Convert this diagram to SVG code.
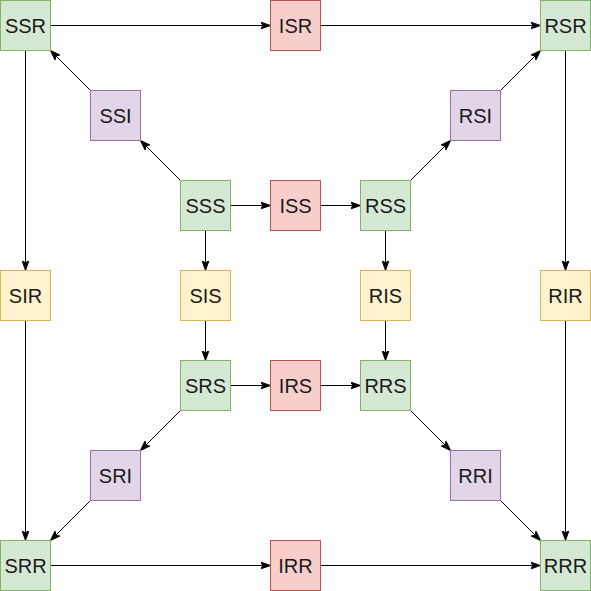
<svg xmlns="http://www.w3.org/2000/svg" width="591" height="591" viewBox="0 0 591 591">
<defs>
<marker id="arr" markerUnits="userSpaceOnUse" markerWidth="11" markerHeight="8" refX="10" refY="4" orient="auto" viewBox="0 0 11 8">
<path d="M0,0.5 L10,4 L0,7.5 L2.5,4 Z" fill="#000" stroke="#000" stroke-width="1"/>
</marker>
<style>
rect{stroke-width:1}
.g{fill:#d5e8d4;stroke:#82b366}
.r{fill:#f8cecc;stroke:#b85450}
.p{fill:#e1d5e7;stroke:#9673a6}
.y{fill:#fff2cc;stroke:#d6b656}
text{font-family:"Liberation Sans",Arial,sans-serif;font-size:20px;fill:#1a1a1a;text-anchor:middle;dominant-baseline:central}
.e{stroke:#000;stroke-width:1;fill:none;marker-end:url(#arr)}
</style>
</defs>
<rect width="591" height="591" fill="#fff"/>
<g id="connectors">
<line class="e" x1="50.5" y1="25.5" x2="270.5" y2="25.5"/>
<line class="e" x1="320.5" y1="25.5" x2="540.5" y2="25.5"/>
<line class="e" x1="50.5" y1="565.5" x2="270.5" y2="565.5"/>
<line class="e" x1="320.5" y1="565.5" x2="540.5" y2="565.5"/>
<line class="e" x1="230.5" y1="205.5" x2="270.5" y2="205.5"/>
<line class="e" x1="320.5" y1="205.5" x2="360.5" y2="205.5"/>
<line class="e" x1="230.5" y1="385.5" x2="270.5" y2="385.5"/>
<line class="e" x1="320.5" y1="385.5" x2="360.5" y2="385.5"/>
<line class="e" x1="25.5" y1="50.5" x2="25.5" y2="270.5"/>
<line class="e" x1="25.5" y1="320.5" x2="25.5" y2="540.5"/>
<line class="e" x1="565.5" y1="50.5" x2="565.5" y2="270.5"/>
<line class="e" x1="565.5" y1="320.5" x2="565.5" y2="540.5"/>
<line class="e" x1="205.5" y1="230.5" x2="205.5" y2="270.5"/>
<line class="e" x1="205.5" y1="320.5" x2="205.5" y2="360.5"/>
<line class="e" x1="385.5" y1="230.5" x2="385.5" y2="270.5"/>
<line class="e" x1="385.5" y1="320.5" x2="385.5" y2="360.5"/>
<line class="e" x1="180.5" y1="180.5" x2="140.5" y2="140.5"/>
<line class="e" x1="90.5" y1="90.5" x2="50.5" y2="50.5"/>
<line class="e" x1="410.5" y1="180.5" x2="450.5" y2="140.5"/>
<line class="e" x1="500.5" y1="90.5" x2="540.5" y2="50.5"/>
<line class="e" x1="180.5" y1="410.5" x2="140.5" y2="450.5"/>
<line class="e" x1="90.5" y1="500.5" x2="50.5" y2="540.5"/>
<line class="e" x1="410.5" y1="410.5" x2="450.5" y2="450.5"/>
<line class="e" x1="500.5" y1="500.5" x2="540.5" y2="540.5"/>
</g>
<g id="SSR"><rect class="g" x="0.5" y="0.5" width="50" height="50"/><text x="25.5" y="25.5">SSR</text></g>
<g id="ISR"><rect class="r" x="270.5" y="0.5" width="50" height="50"/><text x="295.5" y="25.5">ISR</text></g>
<g id="RSR"><rect class="g" x="540.5" y="0.5" width="50" height="50"/><text x="565.5" y="25.5">RSR</text></g>
<g id="SSI"><rect class="p" x="90.5" y="90.5" width="50" height="50"/><text x="115.5" y="115.5">SSI</text></g>
<g id="RSI"><rect class="p" x="450.5" y="90.5" width="50" height="50"/><text x="475.5" y="115.5">RSI</text></g>
<g id="SSS"><rect class="g" x="180.5" y="180.5" width="50" height="50"/><text x="205.5" y="205.5">SSS</text></g>
<g id="ISS"><rect class="r" x="270.5" y="180.5" width="50" height="50"/><text x="295.5" y="205.5">ISS</text></g>
<g id="RSS"><rect class="g" x="360.5" y="180.5" width="50" height="50"/><text x="385.5" y="205.5">RSS</text></g>
<g id="SIR"><rect class="y" x="0.5" y="270.5" width="50" height="50"/><text x="25.5" y="295.5">SIR</text></g>
<g id="SIS"><rect class="y" x="180.5" y="270.5" width="50" height="50"/><text x="205.5" y="295.5">SIS</text></g>
<g id="RIS"><rect class="y" x="360.5" y="270.5" width="50" height="50"/><text x="385.5" y="295.5">RIS</text></g>
<g id="RIR"><rect class="y" x="540.5" y="270.5" width="50" height="50"/><text x="565.5" y="295.5">RIR</text></g>
<g id="SRS"><rect class="g" x="180.5" y="360.5" width="50" height="50"/><text x="205.5" y="385.5">SRS</text></g>
<g id="IRS"><rect class="r" x="270.5" y="360.5" width="50" height="50"/><text x="295.5" y="385.5">IRS</text></g>
<g id="RRS"><rect class="g" x="360.5" y="360.5" width="50" height="50"/><text x="385.5" y="385.5">RRS</text></g>
<g id="SRI"><rect class="p" x="90.5" y="450.5" width="50" height="50"/><text x="115.5" y="475.5">SRI</text></g>
<g id="RRI"><rect class="p" x="450.5" y="450.5" width="50" height="50"/><text x="475.5" y="475.5">RRI</text></g>
<g id="SRR"><rect class="g" x="0.5" y="540.5" width="50" height="50"/><text x="25.5" y="565.5">SRR</text></g>
<g id="IRR"><rect class="r" x="270.5" y="540.5" width="50" height="50"/><text x="295.5" y="565.5">IRR</text></g>
<g id="RRR"><rect class="g" x="540.5" y="540.5" width="50" height="50"/><text x="565.5" y="565.5">RRR</text></g>
</svg>
